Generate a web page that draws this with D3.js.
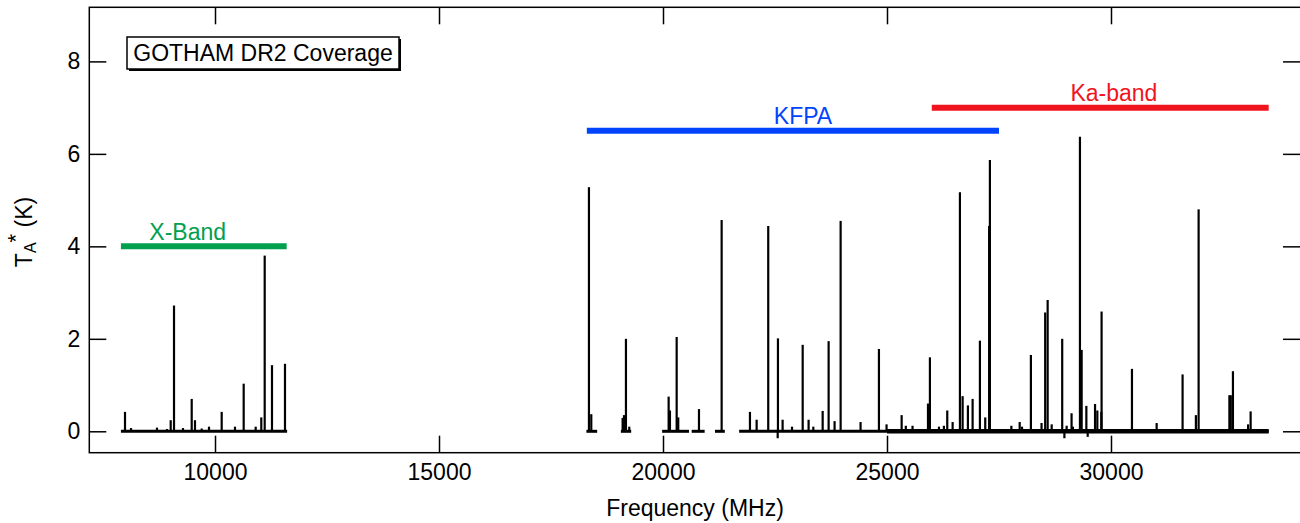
<!DOCTYPE html>
<html><head><meta charset="utf-8">
<script src="https://cdn.jsdelivr.net/npm/d3@7"></script>
<style>
html,body{margin:0;padding:0;background:#fff;}
text{font-family:"Liberation Sans",Arial,Helvetica,sans-serif;}
</style></head>
<body>
<svg id="c" width="1300" height="523"></svg>
<script>
// ---- data ----
const xTicks = [10000, 15000, 20000, 25000, 30000];
const yTicks = [0, 2, 4, 6, 8];
const coverage = [[7900,11610],[18290,18530],[19060,19290],[19980,20580],[20640,20930],[21160,21380],[21700,33520]];
const noisyCoverage = [[25000,33520]];
const bandNames = ["X-Band", "KFPA", "Ka-band"];
const bandStart = [7900, 18300, 26000];
const bandEnd = [11600, 27500, 33520];
const bandLevel = [4.0, 6.5, 7.0];
const bandColor = ["#00a04f", "#0044ff", "#f0141e"];
const bandLabelFreq = [9390, 23125, 30065];
const lineFreq = [
 7991, 8125, 8705, 8928, 9011, 9085, 9285, 9480, 9553, 9703, 9866, 10149, 10446, 10640, 10908, 11033, 11109, 11272, 11562,
 18347, 18399, 19099, 19130, 19173, 19247, 20126, 20155, 20305, 20340, 20803, 21309, 21941, 22090, 22349, 22566, 22670, 22880,
 23118, 23250, 23355, 23564, 23697, 23830, 23965, 24410, 24820, 24990, 25327, 25420, 25570,
 25958, 25915, 26160, 26270, 26345, 26465, 26628, 26688, 26806, 26911, 27074, 27193, 27280, 27297,
 27776, 27962, 28014, 28212, 28450, 28531, 28586, 28676, 28911, 29010, 29120, 29150, 29307, 29345,
 29450, 29644, 29695, 29784, 29790, 30468, 31019, 31598, 31895, 31956, 32643, 32674, 32722, 33060, 33117,
 22560, 28960, 29480
];
const lineTemp = [
 0.42, 0.07, 0.08, 0.05, 0.24, 2.72, 0.07, 0.70, 0.24, 0.06, 0.10, 0.42, 0.10, 1.03, 0.10, 0.30, 3.80, 1.43, 1.46,
 5.28, 0.37, 0.29, 0.35, 2.00, 0.10, 0.75, 0.45, 2.04, 0.30, 0.48, 4.57, 0.42, 0.25, 4.44, 2.01, 0.25, 0.10,
 1.87, 0.25, 0.10, 0.44, 1.95, 0.22, 4.55, 0.20, 1.78, 0.15, 0.35, 0.12, 0.12,
 1.60, 0.60, 0.10, 0.12, 0.45, 0.20, 5.17, 0.76, 0.56, 0.70, 1.96, 0.30, 4.44, 5.87,
 0.12, 0.20, 0.10, 1.65, 0.18, 2.57, 2.84, 0.15, 2.00, 0.12, 0.39, 0.10, 6.37, 1.76,
 0.55, 0.59, 0.45, 0.42, 2.59, 1.35, 0.18, 1.23, 0.35, 4.80, 0.78, 0.78, 1.30, 0.15, 0.43,
 -0.15, -0.15, -0.12
];

// ---- layout ----
const L = 89.3, R = 1300, T = 7.3, B = 452.7;
const FS = 23;
const x = d3.scaleLinear().domain([7194, 34219]).range([L, R]);
const y = d3.scaleLinear().domain([-0.463, 9.17]).range([B, T]);
const svg = d3.select("#c");

// spectrum baseline
svg.append("g").selectAll("line").data(coverage).join("line")
  .attr("x1", d => x(d[0])).attr("x2", d => x(d[1]))
  .attr("y1", y(0)).attr("y2", y(0))
  .attr("stroke", "#000").attr("stroke-width", 3);
svg.append("g").selectAll("line").data(noisyCoverage).join("line")
  .attr("x1", d => x(d[0])).attr("x2", d => x(d[1]))
  .attr("y1", y(0)).attr("y2", y(0))
  .attr("stroke", "#000").attr("stroke-width", 4.5);

// spectral lines
svg.append("g").selectAll("line").data(lineFreq.map((f, i) => [f, lineTemp[i]])).join("line")
  .attr("x1", d => x(d[0])).attr("x2", d => x(d[0]))
  .attr("y1", y(0)).attr("y2", d => y(d[1]))
  .attr("stroke", "#000").attr("stroke-width", 2.2);

// bands
const bands = bandNames.map((n, i) => ({n, s: bandStart[i], e: bandEnd[i], v: bandLevel[i], c: bandColor[i], lf: bandLabelFreq[i]}));
svg.append("g").selectAll("line").data(bands).join("line")
  .attr("x1", d => x(d.s)).attr("x2", d => x(d.e))
  .attr("y1", d => y(d.v)).attr("y2", d => y(d.v))
  .attr("stroke", d => d.c).attr("stroke-width", 6);
svg.append("g").selectAll("text").data(bands).join("text")
  .attr("x", d => x(d.lf)).attr("y", d => y(d.v) - 6.5)
  .attr("text-anchor", "middle").attr("fill", d => d.c)
  .attr("font-size", FS).text(d => d.n);

// axes
function style(g) {
  g.select(".domain").remove();
  g.selectAll(".tick line").attr("stroke", "#000").attr("stroke-width", 1.5);
  g.selectAll("text").attr("font-size", FS).attr("fill", "#000")
    .attr("font-family", '"Liberation Sans",Arial,Helvetica,sans-serif');
}
svg.append("g").attr("transform", `translate(0,${B})`)
  .call(d3.axisBottom(x).tickValues(xTicks).tickSize(-17).tickSizeOuter(0).tickPadding(11).tickFormat(d3.format("d")))
  .call(style);
svg.append("g").attr("transform", `translate(0,${T})`)
  .call(d3.axisTop(x).tickValues(xTicks).tickSize(-17).tickSizeOuter(0).tickFormat(""))
  .call(style);
svg.append("g").attr("transform", `translate(${L},0)`)
  .call(d3.axisLeft(y).tickValues(yTicks).tickSize(-17).tickSizeOuter(0).tickPadding(9).tickFormat(d3.format("d")))
  .call(style);
svg.append("g").attr("transform", `translate(${R},0)`)
  .call(d3.axisRight(y).tickValues(yTicks).tickSize(-17).tickSizeOuter(0).tickFormat(""))
  .call(style);

// frame
svg.append("rect").attr("x", L).attr("y", T).attr("width", R - L + 2).attr("height", B - T)
  .attr("fill", "none").attr("stroke", "#000").attr("stroke-width", 1.5);

// axis titles
svg.append("text").attr("x", 695).attr("y", 516).attr("text-anchor", "middle")
  .attr("font-size", FS).text("Frequency (MHz)");
const yl = svg.append("text").attr("transform", "translate(32,232) rotate(-90)")
  .attr("text-anchor", "middle").attr("font-size", FS);
yl.append("tspan").text("T");
yl.append("tspan").attr("font-size", 16).attr("dy", 4).text("A");
yl.append("tspan").attr("font-size", 22).attr("dy", -13).text("*");
yl.append("tspan").attr("dy", 9).text(" (K)");

// title box
svg.append("rect").attr("x", 129).attr("y", 39).attr("width", 272).attr("height", 32).attr("fill", "#000");
svg.append("rect").attr("x", 127).attr("y", 37).attr("width", 272).attr("height", 32)
  .attr("fill", "#fff").attr("stroke", "#000").attr("stroke-width", 1.5);
svg.append("text").attr("x", 263).attr("y", 61).attr("text-anchor", "middle")
  .attr("font-size", FS).text("GOTHAM DR2 Coverage");
</script>
</body></html>
